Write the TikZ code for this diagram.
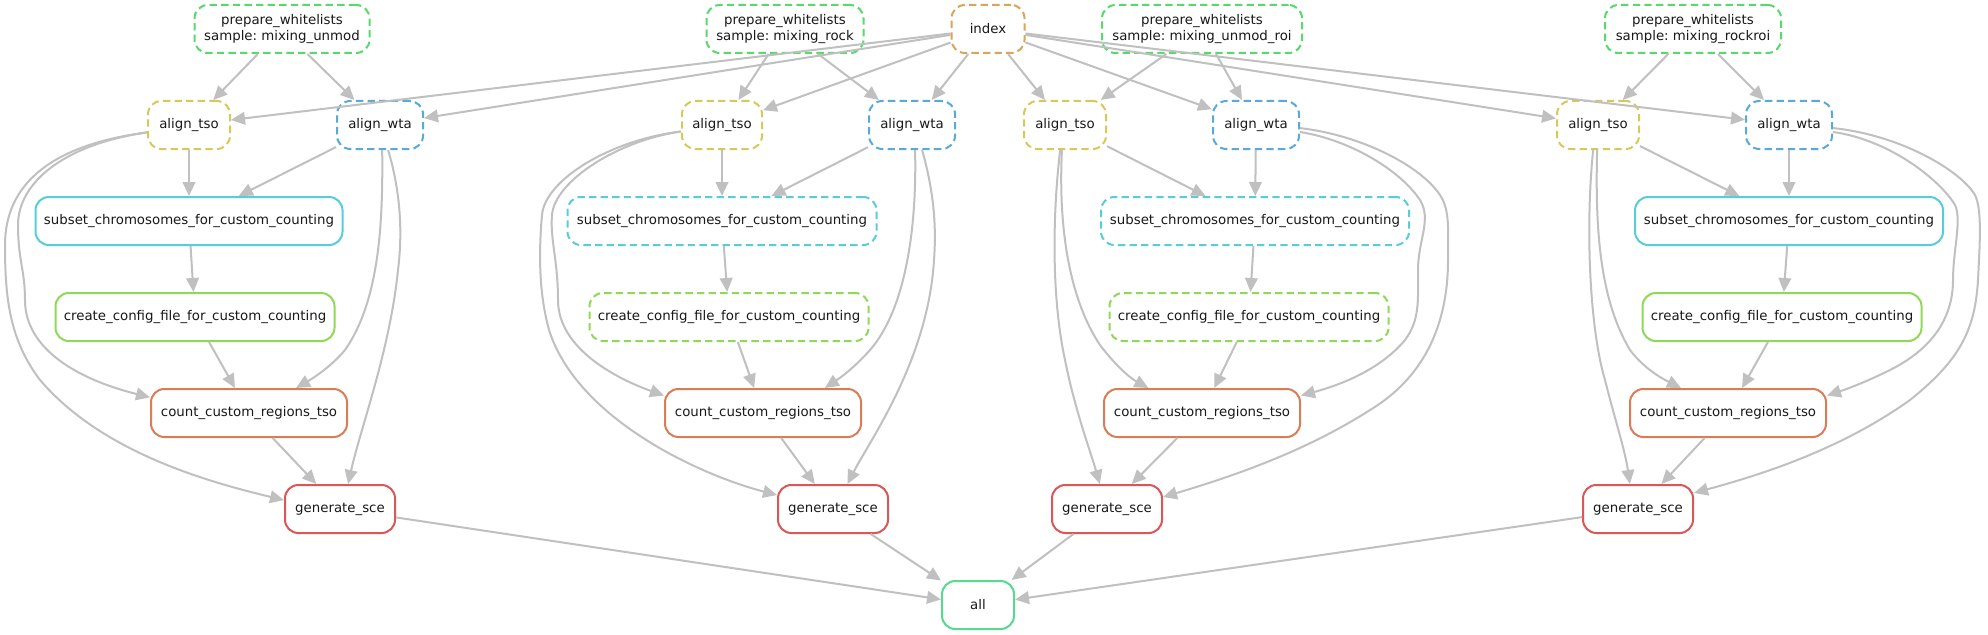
\documentclass[tikz,border=0pt]{standalone}
\usepackage{fontspec}
\setmainfont{DejaVu Sans}
\frenchspacing
\usetikzlibrary{arrows.meta}
\definecolor{cpw}{RGB}{87,217,110}
\definecolor{cidx}{RGB}{217,165,87}
\definecolor{ctso}{RGB}{217,200,87}
\definecolor{cwta}{RGB}{87,170,217}
\definecolor{csub}{RGB}{87,205,217}
\definecolor{ccc}{RGB}{143,217,87}
\definecolor{ccnt}{RGB}{217,125,87}
\definecolor{cgen}{RGB}{217,87,87}
\definecolor{call}{RGB}{87,217,143}
\definecolor{cedge}{RGB}{192,192,192}
\begin{document}
\begin{tikzpicture}[x=0.75pt,y=-0.75pt,
  box/.style={draw, rounded corners=10pt, line width=1.5pt, minimum height=36pt, inner sep=0pt,
    font=\fontsize{10}{11.5}\selectfont, align=center, text=black!90},
  dsh/.style={dash pattern=on 5.5pt off 3.2pt},
  wd/.style={minimum width=#1*0.75pt},
  conn/.style={draw=cedge, line width=1.5pt, -{Triangle[length=10.5pt,width=9.5pt]}}]
\fill[white] (0,0) rectangle (1988,635);
\useasboundingbox (0,0) rectangle (1988,635);

% row 1
\node[box,dsh,draw=cpw,wd=175] (pw1) at (282,29) {prepare\_whitelists\\sample: mixing\_unmod};
\node[box,dsh,draw=cpw,wd=157] (pw2) at (785,29) {prepare\_whitelists\\sample: mixing\_rock};
\node[box,dsh,draw=cidx,wd=73] (idx) at (988,29) {index};
\node[box,dsh,draw=cpw,wd=200] (pw3) at (1202,29) {prepare\_whitelists\\sample: mixing\_unmod\_roi};
\node[box,dsh,draw=cpw,wd=176] (pw4) at (1693,29) {prepare\_whitelists\\sample: mixing\_rockroi};

% row 2
\node[box,dsh,draw=ctso,wd=82] (tso1) at (189,125) {align\_tso};
\node[box,dsh,draw=cwta,wd=86] (wta1) at (380,125) {align\_wta};
\node[box,dsh,draw=ctso,wd=80] (tso2) at (722,125) {align\_tso};
\node[box,dsh,draw=cwta,wd=86] (wta2) at (912,125) {align\_wta};
\node[box,dsh,draw=ctso,wd=82] (tso3) at (1065,125) {align\_tso};
\node[box,dsh,draw=cwta,wd=86] (wta3) at (1256,125) {align\_wta};
\node[box,dsh,draw=ctso,wd=82] (tso4) at (1598,125) {align\_tso};
\node[box,dsh,draw=cwta,wd=86] (wta4) at (1789,125) {align\_wta};

% row 3
\node[box,draw=csub,wd=307] (sub1) at (189,221) {subset\_chromosomes\_for\_custom\_counting};
\node[box,dsh,draw=csub,wd=309] (sub2) at (722,221) {subset\_chromosomes\_for\_custom\_counting};
\node[box,dsh,draw=csub,wd=308] (sub3) at (1255,221) {subset\_chromosomes\_for\_custom\_counting};
\node[box,draw=csub,wd=308] (sub4) at (1789,221) {subset\_chromosomes\_for\_custom\_counting};

% row 4
\node[box,draw=ccc,wd=279] (cc1) at (195,317) {create\_config\_file\_for\_custom\_counting};
\node[box,dsh,draw=ccc,wd=279] (cc2) at (729,317) {create\_config\_file\_for\_custom\_counting};
\node[box,dsh,draw=ccc,wd=279] (cc3) at (1249,317) {create\_config\_file\_for\_custom\_counting};
\node[box,draw=ccc,wd=279] (cc4) at (1782,317) {create\_config\_file\_for\_custom\_counting};

% row 5
\node[box,draw=ccnt,wd=196] (cnt1) at (249,413) {count\_custom\_regions\_tso};
\node[box,draw=ccnt,wd=196] (cnt2) at (763,413) {count\_custom\_regions\_tso};
\node[box,draw=ccnt,wd=196] (cnt3) at (1202,413) {count\_custom\_regions\_tso};
\node[box,draw=ccnt,wd=196] (cnt4) at (1728,413) {count\_custom\_regions\_tso};

% row 6
\node[box,draw=cgen,wd=110] (gen1) at (340,509) {generate\_sce};
\node[box,draw=cgen,wd=110] (gen2) at (833,509) {generate\_sce};
\node[box,draw=cgen,wd=110] (gen3) at (1107,509) {generate\_sce};
\node[box,draw=cgen,wd=110] (gen4) at (1638,509) {generate\_sce};

% row 7
\node[box,draw=call,wd=72] (all) at (978,605) {all};

% straight edges
\foreach \i in {1,2,3,4}{
  \draw[conn] (pw\i) -- (tso\i);
  \draw[conn] (pw\i) -- (wta\i);
  \draw[conn] (idx) -- (tso\i);
  \draw[conn] (idx) -- (wta\i);
  \draw[conn] (tso\i) -- (sub\i);
  \draw[conn] (wta\i) -- (sub\i);
  \draw[conn] (sub\i) -- (cc\i);
  \draw[conn] (cc\i) -- (cnt\i);
  \draw[conn] (cnt\i) -- (gen\i);
  \draw[conn] (gen\i) -- (all);
}

% set 1 curves
\draw[conn] (tso1.190) .. controls (60,145) and (18,185) .. (18,225) .. controls (18,260) and (25,270) .. (25,300) .. controls (25,350) and (80,380) .. (cnt1.171);
\draw[conn] (tso1.190) .. controls (50,145) and (5,185) .. (5,245) .. controls (5,300) and (10,340) .. (40,380) .. controls (100,450) and (200,480) .. (gen1.171);
\draw[conn] (wta1.275) .. controls (383,220) and (380,300) .. (345,350) .. controls (330,368) and (310,380) .. (cnt1.28);
\draw[conn] (wta1.-72) .. controls (400,190) and (403,230) .. (398,270) .. controls (390,350) and (360,430) .. (gen1.72);

% set 2 curves
\draw[conn] (tso2.189) .. controls (620,140) and (555,180) .. (552,215) .. controls (550,240) and (558,260) .. (558,300) .. controls (558,350) and (620,380) .. (cnt2.170);
\draw[conn] (tso2.189) .. controls (610,140) and (545,180) .. (542,215) .. controls (538,260) and (540,300) .. (550,333) .. controls (580,420) and (700,475) .. (gen2.166);
\draw[conn] (wta2.277) .. controls (917,230) and (905,310) .. (870,350) .. controls (855,367) and (840,378) .. (cnt2.22);
\draw[conn] (wta2.292) .. controls (932,185) and (937,220) .. (934,260) .. controls (928,360) and (870,440) .. (gen2.60);

% set 3 curves
\draw[conn] (tso3.263) .. controls (1058,230) and (1070,300) .. (1100,345) .. controls (1115,365) and (1130,378) .. (cnt3.155);
\draw[conn] (tso3.259) .. controls (1052,220) and (1052,300) .. (1065,360) .. controls (1075,410) and (1090,450) .. (gen3.106);
\draw[conn] (wta3.351) .. controls (1350,140) and (1400,170) .. (1420,200) .. controls (1432,220) and (1418,240) .. (1418,270) .. controls (1418,300) and (1420,320) .. (1405,340) .. controls (1380,370) and (1340,385) .. (cnt3.10);
\draw[conn] (wta3.356) .. controls (1360,135) and (1420,165) .. (1440,195) .. controls (1450,210) and (1448,230) .. (1448,260) .. controls (1448,330) and (1420,380) .. (1370,410) .. controls (1300,455) and (1220,480) .. (gen3.12);

% set 4 curves
\draw[conn] (tso4.268) .. controls (1595,230) and (1600,300) .. (1630,350) .. controls (1645,370) and (1665,380) .. (cnt4.152);
\draw[conn] (tso4.259) .. controls (1585,230) and (1590,330) .. (1605,380) .. controls (1615,420) and (1625,450) .. (gen4.108);
\draw[conn] (wta4.351) .. controls (1890,140) and (1940,180) .. (1955,205) .. controls (1962,220) and (1953,250) .. (1953,280) .. controls (1953,320) and (1930,350) .. (1890,370) .. controls (1870,380) and (1850,388) .. (cnt4.10);
\draw[conn] (wta4.356) .. controls (1900,135) and (1960,170) .. (1975,195) .. controls (1982,210) and (1980,240) .. (1978,280) .. controls (1975,330) and (1960,360) .. (1910,400) .. controls (1840,450) and (1760,475) .. (gen4.16);
\end{tikzpicture}
\end{document}
